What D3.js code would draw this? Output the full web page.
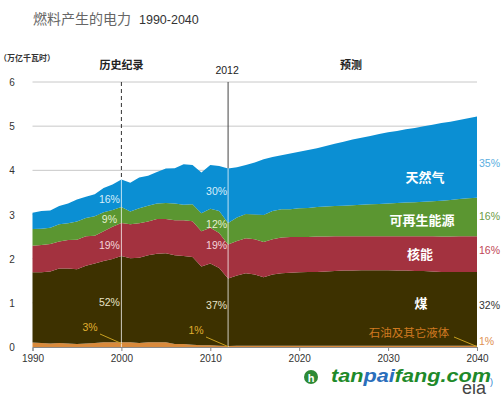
<!DOCTYPE html>
<html><head><meta charset="utf-8">
<script src="https://cdn.jsdelivr.net/npm/d3@7"></script>
<style>
html,body{margin:0;padding:0;background:#fff;}
svg{display:block;}
text{font-family:"Liberation Sans",Arial,"Noto Sans CJK SC",sans-serif;}
</style></head>
<body>
<svg id="chart" width="501" height="397"></svg>
<script>
const years = d3.range(1990, 2041);
const oil = [0.10,0.09,0.08,0.09,0.08,0.07,0.08,0.09,0.11,0.11,0.11,0.11,0.09,0.11,0.11,0.11,0.07,0.07,0.05,0.04,0.04,0.03,0.02,
  0.03,0.03,0.03,0.03,0.03,0.03,0.03,0.03,0.03,0.03,0.03,0.03,0.03,0.03,0.03,0.03,0.03,0.03,0.03,0.03,0.03,0.03,0.03,0.03,0.03,0.03,0.03,0.03];
const coal = [1.59,1.60,1.63,1.69,1.70,1.69,1.76,1.80,1.84,1.88,1.95,1.90,1.93,1.97,2.00,2.01,2.01,1.99,1.99,1.78,1.85,1.76,1.53,
  1.59,1.64,1.61,1.55,1.61,1.64,1.65,1.66,1.67,1.67,1.68,1.69,1.70,1.70,1.71,1.71,1.71,1.71,1.70,1.70,1.69,1.69,1.68,1.67,1.67,1.67,1.67,1.67];
const nuclear = [0.60,0.62,0.62,0.61,0.64,0.67,0.67,0.63,0.67,0.73,0.75,0.77,0.78,0.76,0.79,0.78,0.79,0.81,0.81,0.80,0.81,0.79,0.77,
  0.78,0.79,0.80,0.80,0.80,0.81,0.81,0.80,0.79,0.80,0.79,0.79,0.78,0.78,0.77,0.77,0.77,0.77,0.78,0.78,0.79,0.79,0.80,0.80,0.80,0.81,0.81,0.81];
const renewables = [0.38,0.37,0.37,0.39,0.38,0.41,0.41,0.44,0.43,0.38,0.36,0.29,0.34,0.36,0.35,0.36,0.38,0.35,0.38,0.41,0.43,0.50,0.49,
  0.53,0.55,0.56,0.61,0.64,0.64,0.63,0.65,0.66,0.67,0.68,0.68,0.69,0.70,0.71,0.72,0.73,0.74,0.75,0.76,0.77,0.78,0.79,0.81,0.83,0.84,0.86,0.87];
const gas = [0.37,0.40,0.39,0.41,0.45,0.50,0.48,0.50,0.55,0.58,0.62,0.65,0.70,0.68,0.71,0.78,0.80,0.92,0.89,0.92,0.99,1.02,1.23,
  1.14,1.11,1.18,1.26,1.22,1.22,1.26,1.28,1.31,1.33,1.37,1.41,1.45,1.49,1.52,1.55,1.58,1.61,1.63,1.66,1.68,1.71,1.73,1.76,1.77,1.79,1.81,1.84];

const seriesKeys = ["oil","coal","nuclear","renewables","gas"];
const seriesColors = ["#d98a3c","#3d3100","#a3323f","#5b9631","#0b8fd3"];
const yTicks = [0,1,2,3,4,5,6];
const xTicks = [1990,2000,2010,2020,2030,2040];
const markerYears = [2000, 2012];
const pct2000 = ["3%","52%","19%","9%","16%"];
const pct2012 = ["1%","37%","19%","12%","30%"];
const pct2040 = ["1%","32%","16%","16%","35%"];
const seriesNames = ["石油及其它液体","煤","核能","可再生能源","天然气"];

const rows = years.map((y,i)=>({year:y, oil:oil[i], coal:coal[i], nuclear:nuclear[i], renewables:renewables[i], gas:gas[i]}));
const stacked = d3.stack().keys(seriesKeys)(rows);

const svg = d3.select("#chart");
const x = d3.scaleLinear().domain([1990,2040]).range([32.5,477]);
const y = d3.scaleLinear().domain([0,6]).range([347,82]);

// title
const title = svg.append("text").attr("x",33).attr("y",24);
title.append("tspan").text("燃料产生的电力").attr("font-size",14).attr("fill","#666")
  .attr("font-family","Noto Sans CJK SC");
title.append("tspan").text("1990-2040").attr("dx",8).attr("font-size",12.5).attr("fill","#333");

svg.append("text").attr("x",-1).attr("y",61).attr("font-size",8).attr("font-weight","bold")
  .attr("fill","#333").attr("font-family","Noto Sans CJK SC").text("（万亿千瓦时）");

// gridlines
svg.append("g").selectAll("line").data(yTicks.filter(d=>d>0)).join("line")
  .attr("x1",x(1990)).attr("x2",x(2040)).attr("y1",d=>y(d)).attr("y2",d=>y(d))
  .attr("stroke","#c8c8c8").attr("stroke-width",1);

// y labels
svg.append("g").selectAll("text").data(yTicks).join("text")
  .attr("x",12).attr("y",d=>y(d)+4).attr("text-anchor","middle").attr("font-size",10).attr("fill","#333")
  .text(d=>d);

const total = i => oil[i]+coal[i]+nuclear[i]+renewables[i]+gas[i];

// marker lines above area
markerYears.forEach((yr,k)=>{
  const i = years.indexOf(yr);
  svg.append("line").attr("x1",x(yr)).attr("x2",x(yr)).attr("y1",y(6)).attr("y2",y(total(i)))
    .attr("stroke", k===0 ? "#333" : "#444").attr("stroke-width",1)
    .attr("stroke-dasharray", k===0 ? "4,3" : null);
});

// areas
const area = d3.area().x(d=>x(d.data.year)).y0(d=>y(d[0])).y1(d=>y(d[1]));
svg.append("g").selectAll("path").data(stacked).join("path")
  .attr("d",area).attr("fill",(d,i)=>seriesColors[i]);

// white marker lines in area
markerYears.forEach(yr=>{
  const i = years.indexOf(yr);
  svg.append("line").attr("x1",x(yr)).attr("x2",x(yr)).attr("y1",y(0)).attr("y2",y(total(i)))
    .attr("stroke","#fff").attr("stroke-opacity",0.75).attr("stroke-width",1);
});

// x axis
const xAxis = svg.append("g").attr("transform",`translate(0,${y(0)})`)
  .call(d3.axisBottom(x).tickValues(xTicks).tickFormat(d3.format("d")).tickSize(4).tickPadding(4));
xAxis.select(".domain").attr("stroke","#888");
xAxis.selectAll(".tick line").attr("stroke","#888");
xAxis.selectAll(".tick text").attr("font-size",10).attr("fill","#333")
  .attr("font-family","Liberation Sans, Arial, sans-serif");

// top labels
svg.append("text").attr("x",x(2000)).attr("y",69).attr("text-anchor","middle").attr("font-size",11)
  .attr("font-weight","bold").attr("fill","#222").attr("font-family","Noto Sans CJK SC").text("历史纪录");
svg.append("text").attr("x",x(2012)-1).attr("y",74).attr("text-anchor","middle").attr("font-size",10.5)
  .attr("fill","#222").text("2012");
svg.append("text").attr("x",351).attr("y",69).attr("text-anchor","middle").attr("font-size",11)
  .attr("font-weight","bold").attr("fill","#222").attr("font-family","Noto Sans CJK SC").text("预测");

// inner percentage labels
const pctColors = ["#e0b030","#e8e2c8","#f4d4da","#e4f0d0","#d8eefa"];
const labelY2000 = [0, 302, 245, 219, 199];
const labelY2012 = [0, 305, 245, 224, 191];
[[2000,pct2000,-12,labelY2000],[2012,pct2012,-11.5,labelY2012]].forEach(([yr,labels,dx,ly])=>{
  labels.forEach((lab,s)=>{
    if(s===0) return;
    svg.append("text").attr("x",x(yr)+dx).attr("y",ly[s]+4).attr("text-anchor","middle")
      .attr("font-size",10.5).attr("fill",pctColors[s]).text(lab);
  });
});
// oil callouts
svg.append("text").attr("x",90).attr("y",331).attr("text-anchor","middle").attr("font-size",10.5)
  .attr("fill","#e0b030").text(pct2000[0]);
svg.append("line").attr("x1",100).attr("y1",334).attr("x2",x(2000)).attr("y2",y(0.08))
  .attr("stroke","#c8a020").attr("stroke-width",1);
svg.append("text").attr("x",196).attr("y",334).attr("text-anchor","middle").attr("font-size",10.5)
  .attr("fill","#e0b030").text(pct2012[0]);
svg.append("line").attr("x1",206).attr("y1",337).attr("x2",x(2012)).attr("y2",y(0.01))
  .attr("stroke","#c8a020").attr("stroke-width",1);

// right side labels
const rightColors = ["#e09050","#333","#c04555","#6a9a45","#5aaee0"];
const rightY = [341, 305, 250, 216, 163];
pct2040.forEach((lab,s)=>{
  svg.append("text").attr("x",479).attr("y",rightY[s]+4).attr("font-size",10.5)
    .attr("fill",rightColors[s]).text(lab);
});

// series name labels
const nameX = [409, 421, 420, 422, 425];
const nameY = [332, 303, 254, 220, 177];
seriesNames.forEach((n,s)=>{
  svg.append("text").attr("x",nameX[s]).attr("y",nameY[s]+5).attr("text-anchor","middle")
    .attr("font-family","Noto Sans CJK SC").attr("font-weight", s===0? "normal":"bold")
    .attr("font-size", s===0? 11.5 : 13).attr("fill", s===0? "#d07a20" : "#fff").text(n);
});
svg.append("line").attr("x1",454).attr("y1",337).attr("x2",x(2040)).attr("y2",y(0.01))
  .attr("stroke","#c8a020").attr("stroke-width",1);

// watermark
svg.append("circle").attr("cx",311).attr("cy",377).attr("r",7).attr("fill","#2e8a35");
svg.append("text").attr("x",311).attr("y",381.5).attr("text-anchor","middle").attr("font-size",11)
  .attr("font-weight","bold").attr("fill","#fff").text("h");
const wm = svg.append("text").attr("x",331).attr("y",382).attr("font-size",19).attr("font-weight","900")
  .attr("font-style","italic").attr("textLength",160).attr("lengthAdjust","spacingAndGlyphs");
wm.append("tspan").text("tan").attr("fill","#1e8a2a");
wm.append("tspan").text("pai").attr("fill","#2a6ebb");
wm.append("tspan").text("fang.com").attr("fill","#1e8a2a");
svg.append("text").attr("x",462).attr("y",394).attr("font-size",18).attr("fill","#444")
  .attr("font-family","Liberation Serif, serif").text("eia");
svg.append("text").attr("x",490).attr("y",385).attr("font-size",9).attr("fill","#2a7fd0")
  .attr("font-family","Liberation Serif, serif").text(")");
</script>
</body></html>
